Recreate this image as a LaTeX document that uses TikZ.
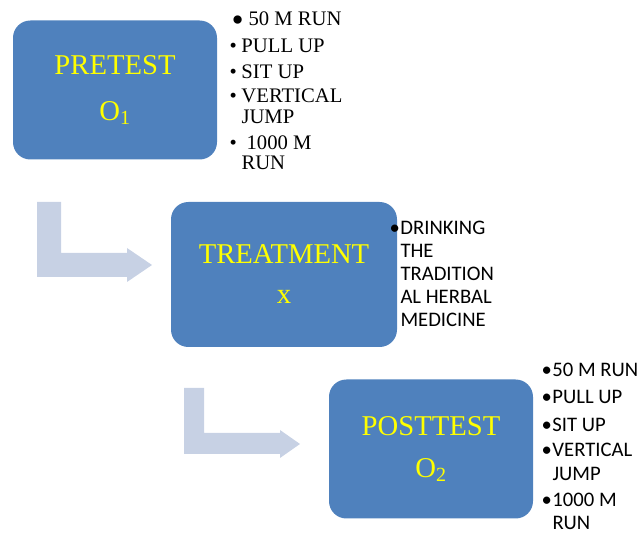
\documentclass[tikz,border=0pt]{standalone}
\usepackage{fontspec}
\setmainfont{Liberation Serif}
\newfontfamily\calibri{Carlito}
\usepackage{tikz}
\definecolor{boxblue}{RGB}{79,129,189}
\definecolor{arrowgrey}{RGB}{199,209,228}
\definecolor{txtyellow}{RGB}{255,255,0}
\tikzset{every picture/.style={line width=0.75pt}}
\tikzset{stagebox/.style={fill=boxblue, draw=none, rounded corners=13pt, align=center, text=txtyellow, inner sep=0pt}}
\tikzset{listtext/.style={anchor=base west, inner sep=0pt, align=left}}
\newcommand{\bul}[1]{\makebox[#1][l]{•}}

\begin{document}
\begin{tikzpicture}[x=0.75pt,y=0.75pt,yscale=-1,xscale=1]
\useasboundingbox (0,0) rectangle (640,534); %set diagram to 640 x 534

%Shape: Bent Arrow [id:pretest to treatment]
\fill [arrowgrey] (37,202) -- (61,202) -- (61,253) -- (127,253) -- (127,248) -- (152,265) -- (127,282) -- (127,277) -- (37,277) -- cycle ;
%Shape: Bent Arrow [id:treatment to posttest]
\fill [arrowgrey] (184,388) -- (204,388) -- (204,433) -- (280,433) -- (280,430) -- (300,444) -- (280,458) -- (280,454) -- (184,454) -- cycle ;

%Shape: Rounded Rect [id:pretest]
\node [stagebox, minimum width=153pt, minimum height=104.25pt, font=\fontsize{21.5}{34}\selectfont] (pretest) at (115,90) {PRETEST\\O\textsubscript{1}};
%Shape: Rounded Rect [id:treatment]
\node [stagebox, minimum width=169.5pt, minimum height=108.75pt, font=\fontsize{21.5}{30}\selectfont] (treatment) at (284,274.5) {TREATMENT\\x};
%Shape: Rounded Rect [id:posttest]
\node [stagebox, minimum width=153pt, minimum height=104.25pt, font=\fontsize{21.5}{32}\selectfont] (posttest) at (431,449) {POSTTEST\\O\textsubscript{2}};

% Text Node
\draw (231,26) node (pre50) [listtext, font=\fontsize{15.5}{15.75}\selectfont] {\makebox[12.75pt][l]{\raisebox{-4.5pt}{\fontsize{26}{26}\selectfont •}}50 M RUN};
% Text Node
\draw (229,53) node (prepull) [listtext, font=\fontsize{15.5}{15.75}\selectfont] {\bul{9pt}PULL UP};
% Text Node
\draw (229,79) node (presit) [listtext, font=\fontsize{15.5}{15.75}\selectfont] {\bul{9pt}SIT UP};
% Text Node (base is the last line)
\draw (229,124) node (prejump) [listtext, font=\fontsize{15.5}{15.75}\selectfont] {\bul{9pt}VERTICAL\\\hspace*{9pt}JUMP};
% Text Node
\draw (229,170) node (prerun) [listtext, font=\fontsize{15.5}{15}\selectfont] {\bul{9pt}\ 1000 M\\\hspace*{9pt}RUN};

% Text Node
\draw (389,327) node (herbal) [listtext, font=\calibri\fontsize{15.5}{17.25}\selectfont] {\bul{8.25pt}DRINKING\\\hspace*{8.25pt}THE\\\hspace*{8.25pt}TRADITION\\\hspace*{8.25pt}AL HERBAL\\\hspace*{8.25pt}MEDICINE};

% Text Node
\draw (541,377) node (post50) [listtext, font=\calibri\fontsize{15.5}{18}\selectfont] {\bul{8.25pt}50 M RUN};
% Text Node
\draw (541,404) node (postpull) [listtext, font=\calibri\fontsize{15.5}{18}\selectfont] {\bul{8.25pt}PULL UP};
% Text Node
\draw (541,432) node (postsit) [listtext, font=\calibri\fontsize{15.5}{18}\selectfont] {\bul{8.25pt}SIT UP};
% Text Node
\draw (541,481) node (postjump) [listtext, font=\calibri\fontsize{15.5}{18}\selectfont] {\bul{8.25pt}VERTICAL\\\hspace*{8.25pt}JUMP};
% Text Node
\draw (541,530) node (postrun) [listtext, font=\calibri\fontsize{15.5}{17.25}\selectfont] {\bul{8.25pt}1000 M\\\hspace*{8.25pt}RUN};

\end{tikzpicture}
\end{document}
